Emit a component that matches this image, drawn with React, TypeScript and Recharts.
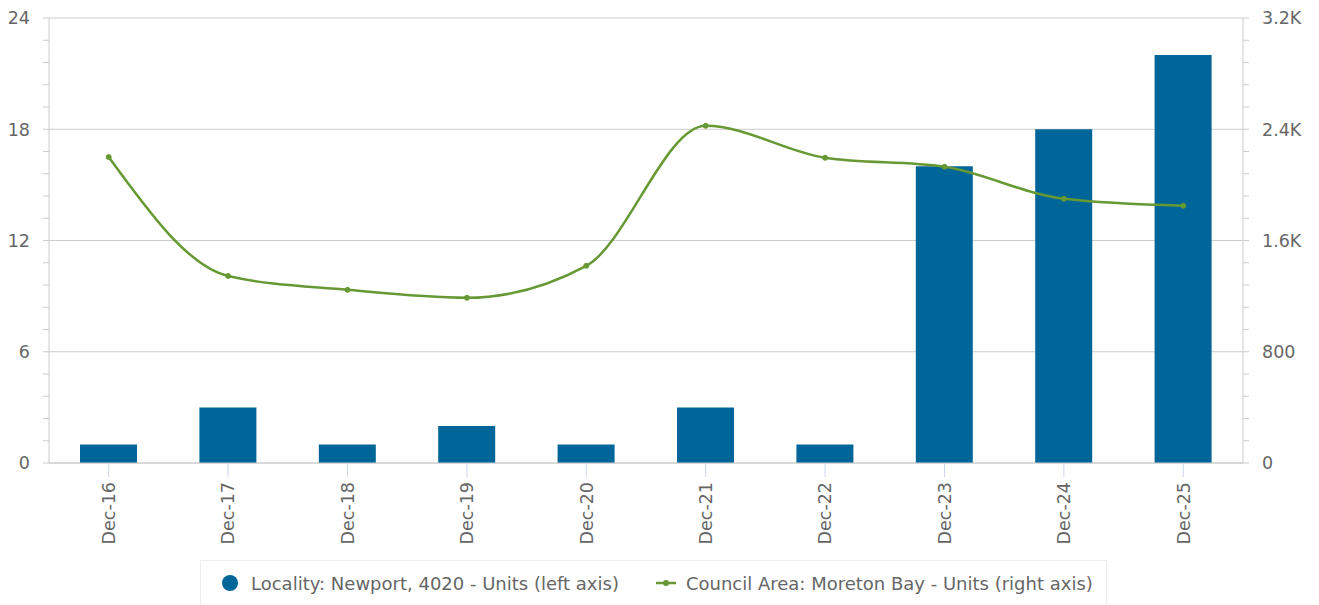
import React from "react";
import {
  ComposedChart,
  Bar,
  Line,
  XAxis,
  YAxis,
  CartesianGrid,
  Legend,
} from "recharts";

const CATEGORIES = [
  "Dec-16",
  "Dec-17",
  "Dec-18",
  "Dec-19",
  "Dec-20",
  "Dec-21",
  "Dec-22",
  "Dec-23",
  "Dec-24",
  "Dec-25",
];
const LOCALITY_UNITS = [1, 3, 1, 2, 1, 3, 1, 16, 18, 22];
const COUNCIL_UNITS = [2200, 1345, 1245, 1188, 1418, 2425, 2195, 2130, 1900, 1850];

const LEFT_MAJOR = [0, 6, 12, 18, 24];
const LEFT_TICKS = [
  0, 1.2, 2.4, 3.6, 4.8, 6, 7.2, 8.4, 9.6, 10.8, 12, 13.2, 14.4, 15.6, 16.8, 18,
  19.2, 20.4, 21.6, 22.8, 24,
];
const RIGHT_MAJOR = [0, 800, 1600, 2400, 3200];
const RIGHT_TICKS = [
  0, 160, 320, 480, 640, 800, 960, 1120, 1280, 1440, 1600, 1760, 1920, 2080,
  2240, 2400, 2560, 2720, 2880, 3040, 3200,
];

const BAR_COLOR = "#006699";
const LINE_COLOR = "#669933";
const TEXT_COLOR = "#666666";
const FONT = "'DejaVu Sans', sans-serif";

const data = CATEGORIES.map((name, i) => ({
  name,
  locality: LOCALITY_UNITS[i],
  council: COUNCIL_UNITS[i],
}));

const fmtK = (v: number) => (v >= 1000 ? `${v / 1000}K` : `${v}`);

function YTick(props: any) {
  const { x, y, payload, textAnchor, majors, format } = props;
  if (!majors.includes(payload.value)) return null;
  return (
    <text
      x={x}
      y={y}
      dy="0.36em"
      textAnchor={textAnchor}
      fill={TEXT_COLOR}
      fontSize={17.5}
      fontFamily={FONT}
    >
      {format ? format(payload.value) : payload.value}
    </text>
  );
}

function XTick(props: any) {
  const { x, y, payload } = props;
  return (
    <text
      x={x}
      y={y + 3}
      dy="0.36em"
      transform={`rotate(-90 ${x} ${y + 3})`}
      textAnchor="end"
      fill={TEXT_COLOR}
      fontSize={17.5}
      fontFamily={FONT}
    >
      {payload.value}
    </text>
  );
}

function LegendBox() {
  return (
    <div
      style={{
        boxSizing: "border-box",
        width: 907,
        height: 46,
        border: "1px solid #eeeeee",
        background: "#ffffff",
        display: "flex",
        alignItems: "center",
        paddingLeft: 20,
        fontFamily: FONT,
        fontSize: 18,
        color: "#666666",
      }}
    >
      <svg width={18} height={18} style={{ marginRight: 12 }}>
        <circle cx={9} cy={9} r={8} fill={BAR_COLOR} />
      </svg>
      <span>Locality: Newport, 4020 - Units (left axis)</span>
      <svg width={22} height={20} style={{ marginLeft: 36, marginRight: 9 }}>
        <line x1={1} y1={10} x2={21} y2={10} stroke={LINE_COLOR} strokeWidth={2.5} />
        <circle cx={11} cy={10} r={3} fill={LINE_COLOR} />
      </svg>
      <span>Council Area: Moreton Bay - Units (right axis)</span>
    </div>
  );
}

export default function App() {
  return (
    <div style={{ position: "absolute", left: 0, top: 0, background: "#fff" }}>
      <ComposedChart
        width={1319}
        height={605}
        data={data}
        margin={{ top: 18, right: 0, bottom: 6, left: 0 }}
      >
        <CartesianGrid
          yAxisId="left"
          vertical={false}
          horizontalValues={LEFT_MAJOR}
          stroke="#cccccc"
          strokeWidth={1}
        />
        <XAxis
          dataKey="name"
          height={90}
          interval={0}
          axisLine={{ stroke: "#cccccc" }}
          tickLine={{ stroke: "#ccd6eb" }}
          tickSize={14}
          tick={<XTick />}
        />
        <YAxis
          yAxisId="left"
          orientation="left"
          width={49}
          domain={[0, 24]}
          ticks={LEFT_TICKS}
          interval={0}
          axisLine={{ stroke: "#cccccc" }}
          tickLine={{ stroke: "#cccccc" }}
          tickSize={6}
          tickMargin={13}
          tick={<YTick majors={LEFT_MAJOR} />}
        />
        <YAxis
          yAxisId="right"
          orientation="right"
          width={76}
          domain={[0, 3200]}
          ticks={RIGHT_TICKS}
          interval={0}
          axisLine={{ stroke: "#cccccc" }}
          tickLine={{ stroke: "#cccccc" }}
          tickSize={6}
          tickMargin={13}
          tick={<YTick majors={RIGHT_MAJOR} format={fmtK} />}
        />
        <Legend
          verticalAlign="bottom"
          content={() => <LegendBox />}
          wrapperStyle={{ position: "absolute", left: 200, top: 560, width: 907, bottom: "auto" }}
        />
        <Bar
          yAxisId="left"
          dataKey="locality"
          fill={BAR_COLOR}
          barSize={57}
          isAnimationActive={false}
        />
        <Line
          yAxisId="right"
          type="monotone"
          dataKey="council"
          stroke={LINE_COLOR}
          strokeWidth={2.5}
          dot={{ r: 2.5, fill: LINE_COLOR, stroke: LINE_COLOR, strokeWidth: 1 }}
          isAnimationActive={false}
        />
      </ComposedChart>
    </div>
  );
}
